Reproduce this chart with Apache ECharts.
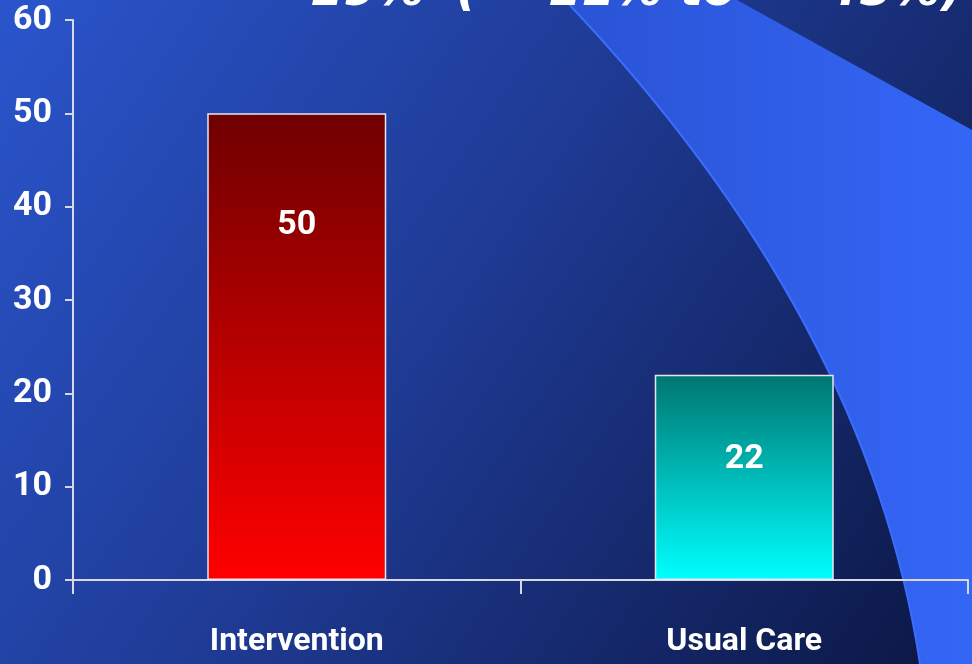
<!DOCTYPE html>
<html>
<head>
<meta charset="utf-8">
<style>
  html, body { margin: 0; padding: 0; }
  #chart { width: 972px; height: 664px; }
</style>
<script src="https://cdn.jsdelivr.net/npm/echarts@6/dist/echarts.min.js"></script>
</head>
<body>
<div id="chart"></div>
<script>
// data
var categories = ["Intervention", "Usual Care"];
var values = [50, 22];
var yTicks = [0, 10, 20, 30, 40, 50, 60];
// headline is cut off at the top of the slide, only the bottoms of these pieces show
var headlineParts = ["19%", "(", "11%", "to", "45%)"];
var headlineX = [310, 456, 548, 680, 826];

var labelFont = 'Roboto, "DejaVu Sans Condensed", sans-serif';

// bar fills, dark at the top
var barColors = [
  ["#6e0000", "#ff0000"],
  ["#007570", "#00ffff"]
];
// how far the value label sits below each bar top
var labelDistance = [95, 68];

// background swoosh: quadratic curve from top to bottom edge
function swooshPoints() {
  var p0 = [565, 0], c = [868, 319], p1 = [920, 664];
  var pts = [[737, 0], [972, 130], [972, 664]];
  for (var i = 40; i >= 0; i--) {
    var t = i / 40;
    var a = (1 - t) * (1 - t), b = 2 * t * (1 - t), d = t * t;
    pts.push([a * p0[0] + b * c[0] + d * p1[0], a * p0[1] + b * c[1] + d * p1[1]]);
  }
  return pts;
}

var graphics = [
  {
    type: "rect",
    z: -10,
    silent: true,
    shape: { x: 0, y: 0, width: 972, height: 664 },
    style: {
      fill: new echarts.graphic.LinearGradient(0, 0, 1, 1, [
        { offset: 0, color: "#2a55cc" },
        { offset: 0.45, color: "#1f3b95" },
        { offset: 1, color: "#0b1642" }
      ])
    }
  },
  {
    type: "polygon",
    z: -9,
    silent: true,
    shape: { points: swooshPoints() },
    style: {
      fill: new echarts.graphic.LinearGradient(0, 0, 1, 0, [
        { offset: 0, color: "#2a53d4" },
        { offset: 1, color: "#3466f6" }
      ])
    }
  },
  {
    type: "bezierCurve",
    z: -8,
    silent: true,
    shape: { x1: 565, y1: 0, cpx1: 868, cpy1: 319, x2: 920, y2: 664 },
    style: { fill: null, stroke: "#3b6dff", lineWidth: 2 }
  }
];

headlineParts.forEach(function (s, i) {
  graphics.push({
    type: "text",
    z: 5,
    silent: true,
    x: headlineX[i],
    y: 17,
    style: {
      text: s,
      fill: "#ffffff",
      font: 'italic bold 48px "DejaVu Sans"',
      verticalAlign: "bottom",
      textShadowColor: "#000000",
      textShadowOffsetX: 3,
      textShadowOffsetY: 3,
      textShadowBlur: 0
    }
  });
});

var chart = echarts.init(document.getElementById("chart"));

chart.setOption({
  animation: false,
  graphic: graphics,
  grid: {
    left: 73,
    right: 4,
    top: 20,
    bottom: 84
  },
  xAxis: {
    type: "category",
    data: categories,
    axisLine: { lineStyle: { color: "#d8d8e8", width: 2 } },
    axisTick: {
      show: true,
      length: 14,
      lineStyle: { color: "#d8d8e8", width: 2 }
    },
    axisLabel: {
      color: "#ffffff",
      fontFamily: labelFont,
      fontSize: 32,
      fontWeight: "bold",
      margin: 46
    }
  },
  yAxis: {
    type: "value",
    min: yTicks[0],
    max: yTicks[yTicks.length - 1],
    interval: yTicks[1] - yTicks[0],
    splitLine: { show: false },
    axisLine: { show: true, lineStyle: { color: "#d8d8e8", width: 2 } },
    axisTick: {
      show: true,
      length: 8,
      lineStyle: { color: "#d8d8e8", width: 2 }
    },
    axisLabel: {
      color: "#ffffff",
      fontFamily: labelFont,
      fontSize: 34,
      fontWeight: "bold",
      margin: 21
    }
  },
  series: [
    {
      type: "bar",
      barWidth: "40%",
      data: values.map(function (v, i) {
        return {
          value: v,
          itemStyle: {
            color: new echarts.graphic.LinearGradient(0, 0, 0, 1, [
              { offset: 0, color: barColors[i][0] },
              { offset: 1, color: barColors[i][1] }
            ]),
            borderColor: "#e6e6f0",
            borderWidth: 1.5
          },
          label: { distance: labelDistance[i] }
        };
      }),
      label: {
        show: true,
        position: "insideTop",
        color: "#ffffff",
        fontFamily: labelFont,
        fontSize: 34,
        fontWeight: "bold"
      }
    }
  ]
});
</script>
</body>
</html>
